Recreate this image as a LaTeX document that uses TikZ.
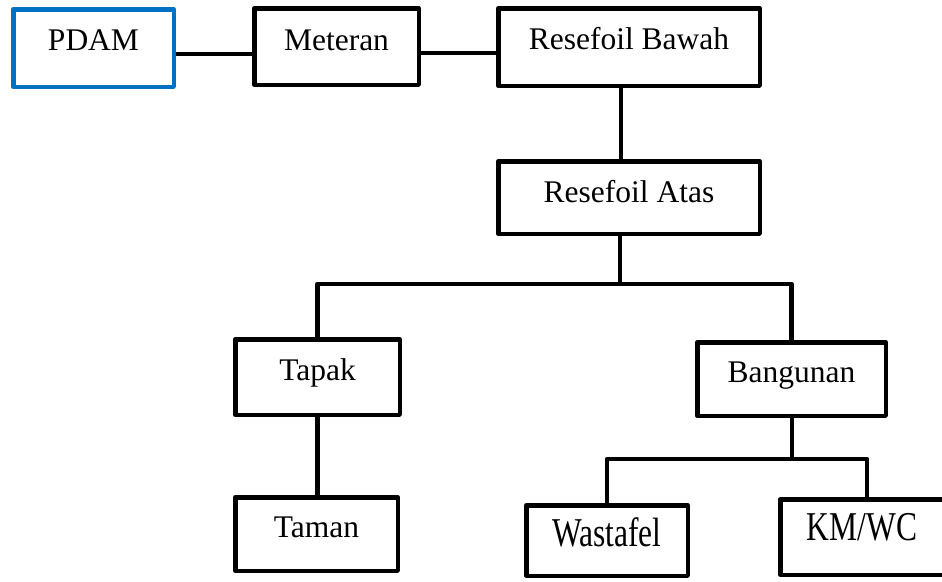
\documentclass[tikz,border=0pt]{standalone}
\usepackage{fontspec}
\setmainfont{Liberation Serif}
\usepackage{graphicx}
\usetikzlibrary{backgrounds}
\definecolor{wordblue}{HTML}{0070C0}
\tikzset{
  box/.style={draw=black, line width=4.5pt, line join=round, fill=white,
    rectangle, inner sep=0pt, minimum width=#1},
  bluebox/.style={box=#1, draw=wordblue},
  txt/.style={anchor=base, inner sep=0pt, font=\fontsize{31.5}{36}\selectfont},
  conn/.style={draw=black, line width=4.5pt, line join=round},
}
\begin{document}
\begin{tikzpicture}[x=1pt, y=-1pt]
\useasboundingbox (0,0) rectangle (942,581);
\clip (0,0) rectangle (942,581);

% boxes
\node[bluebox=160.5pt, minimum height=77.5pt] (pdam)     at (93.5,48)    {};
\node[box=164.5pt, minimum height=76.5pt]     (meteran)  at (336.5,46.5) {};
\node[box=261.5pt, minimum height=77.5pt]     (bawah)    at (629,47)     {};
\node[box=261.5pt, minimum height=72.5pt]     (atas)     at (629,197.5)  {};
\node[box=164.5pt, minimum height=75.5pt]     (tapak)    at (317.5,377)  {};
\node[box=188.5pt, minimum height=73.5pt]     (bangunan) at (791.5,379)  {};
\node[box=162.5pt, minimum height=73.5pt]     (taman)    at (316.5,534)  {};
\node[box=161.5pt, minimum height=70.5pt]     (wastafel) at (607,540.5)  {};
\node[box=163.5pt, minimum height=75.5pt]     (kmwc)     at (862,537)    {};

% labels, set on a baseline a little below each box centre
\node[txt] (pdam-t)     at ([yshift=-2pt]pdam.center)       {PDAM};
\node[txt] (meteran-t)  at ([yshift=-3.5pt]meteran.center)  {Meteran};
\node[txt] (bawah-t)    at ([yshift=-2pt]bawah.center)      {Resefoil Bawah};
\node[txt] (atas-t)     at ([yshift=-4.5pt]atas.center)     {Resefoil Atas};
\node[txt] (tapak-t)    at ([yshift=-3pt]tapak.center)      {Tapak};
\node[txt] (bangunan-t) at ([yshift=-3pt]bangunan.center)   {Bangunan};
\node[txt] (taman-t)    at ([yshift=-3pt]taman.center)      {Taman};
\node[txt] (wastafel-t) at ([yshift=-5.5pt]wastafel.center) {\scalebox{1}[1.3]{Wastafel}};
\node[txt] (kmwc-t)     at ([yshift=-3pt]kmwc.center)       {\scalebox{1}[1.3]{KM/WC}};

% connectors, kept behind the boxes
\coordinate (h1) at (0,54);
\coordinate (h2) at (0,53);
\coordinate (j1) at (620,284);
\coordinate (j2) at (792,459);
\begin{scope}[on background layer]
\draw[conn] (pdam.east |- h1) -- (meteran.west |- h1);
\draw[conn] (meteran.east |- h2) -- (bawah.west |- h2);
\draw[conn] ([xshift=-8pt]bawah.south) -- ([xshift=-8pt]atas.north);
\draw[conn] (atas.south -| j1) -- (j1);
\draw[conn] (tapak.north) |- (j1) -| (bangunan.north);
\draw[conn] (tapak.south) -- (tapak.south |- taman.north);
\draw[conn] (bangunan.south -| j2) -- (j2);
\draw[conn] (wastafel.north) |- (j2) -| ([xshift=5pt]kmwc.north);
\end{scope}
\end{tikzpicture}
\end{document}
